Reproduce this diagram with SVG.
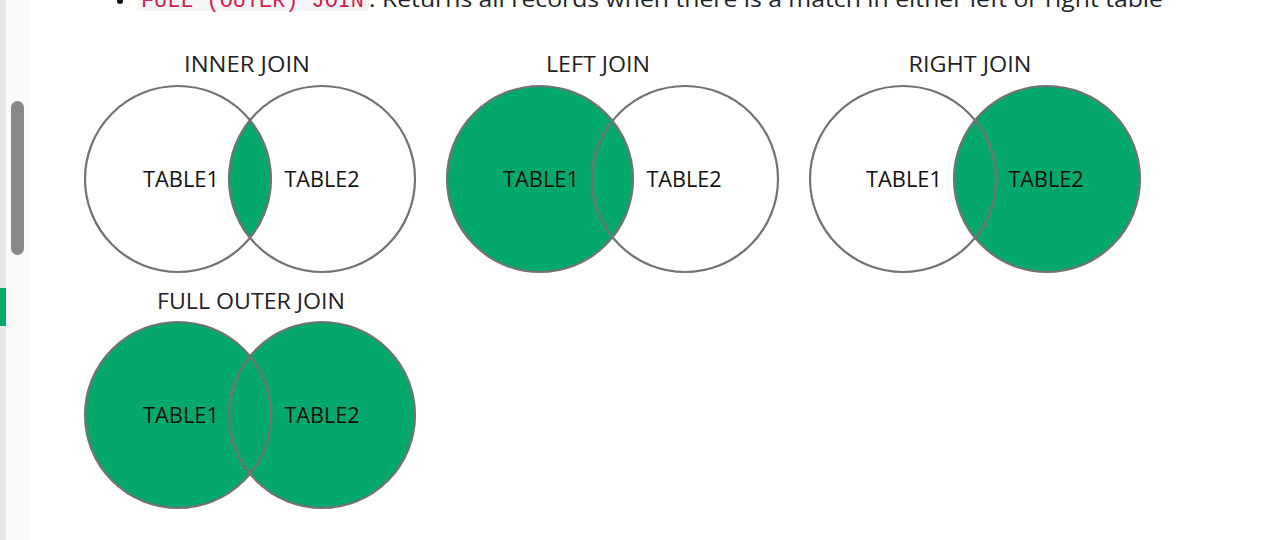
<svg xmlns="http://www.w3.org/2000/svg" width="1262" height="540" viewBox="0 0 1262 540">
<style>
.title{font-family:"Open Sans","Noto Sans","Liberation Sans",sans-serif;font-size:22px;fill:#222;text-anchor:middle}
.lbl{font-family:"Open Sans","Noto Sans","Liberation Sans",sans-serif;font-size:22px;fill:#111;text-anchor:middle}
.ring{fill:none;stroke:#737373;stroke-width:2.2}
.g{fill:#05a86b}
</style>
<rect x="0" y="0" width="1262" height="540" fill="#ffffff"/>
<g id="sidebar">
<rect x="0" y="0" width="6" height="540" fill="#e8e9eb"/>
<rect x="6" y="0" width="23" height="540" fill="#fafafa"/>
<rect x="11" y="101" width="13" height="154" rx="6.5" fill="#888888"/>
<rect x="0" y="288" width="6" height="38" fill="#05a86b"/>
</g>
<g id="topline">
<circle cx="120" cy="1" r="3" fill="#111"/>
<rect x="137" y="-10" width="232" height="21" fill="#f5f5f5"/>
<text x="141" y="7" font-family="'Liberation Mono',monospace" font-size="21.8px" fill="#d6204e" textLength="223" lengthAdjust="spacingAndGlyphs">FULL (OUTER) JOIN</text>
<text x="369" y="7" font-family="'Open Sans','Noto Sans',sans-serif" font-size="22px" fill="#212529" textLength="794" lengthAdjust="spacingAndGlyphs">: Returns all records when there is a match in either left or right table</text>
</g>
<g id="inner-join">
<text class="title" x="247" y="72" textLength="126" lengthAdjust="spacingAndGlyphs">INNER JOIN</text>
<path class="g" d="M250,120.1 A93,93 0 0 1 250,237.9 A93,93 0 0 1 250,120.1 Z"/>
<circle class="ring" cx="178" cy="179" r="93"/>
<circle class="ring" cx="322" cy="179" r="93"/>
<text class="lbl" x="181" y="187" textLength="76" lengthAdjust="spacingAndGlyphs">TABLE1</text>
<text class="lbl" x="322" y="187" textLength="75" lengthAdjust="spacingAndGlyphs">TABLE2</text>
</g>
<g id="left-join">
<text class="title" x="598" y="72" textLength="104" lengthAdjust="spacingAndGlyphs">LEFT JOIN</text>
<circle class="g" cx="540" cy="179" r="93"/>
<circle class="ring" cx="540" cy="179" r="93"/>
<circle class="ring" cx="685" cy="179" r="93"/>
<text class="lbl" x="541" y="187" textLength="76" lengthAdjust="spacingAndGlyphs">TABLE1</text>
<text class="lbl" x="684" y="187" textLength="75" lengthAdjust="spacingAndGlyphs">TABLE2</text>
</g>
<g id="right-join">
<text class="title" x="970" y="72" textLength="123" lengthAdjust="spacingAndGlyphs">RIGHT JOIN</text>
<circle class="g" cx="1047" cy="179" r="93"/>
<circle class="ring" cx="903" cy="179" r="93"/>
<circle class="ring" cx="1047" cy="179" r="93"/>
<text class="lbl" x="904" y="187" textLength="76" lengthAdjust="spacingAndGlyphs">TABLE1</text>
<text class="lbl" x="1046" y="187" textLength="75" lengthAdjust="spacingAndGlyphs">TABLE2</text>
</g>
<g id="full-outer-join">
<text class="title" x="251" y="309" textLength="188" lengthAdjust="spacingAndGlyphs">FULL OUTER JOIN</text>
<circle class="g" cx="178" cy="415" r="93"/>
<circle class="g" cx="322" cy="415" r="93"/>
<circle class="ring" cx="178" cy="415" r="93"/>
<circle class="ring" cx="322" cy="415" r="93"/>
<text class="lbl" x="181" y="423" textLength="76" lengthAdjust="spacingAndGlyphs">TABLE1</text>
<text class="lbl" x="322" y="423" textLength="75" lengthAdjust="spacingAndGlyphs">TABLE2</text>
</g>
</svg>
